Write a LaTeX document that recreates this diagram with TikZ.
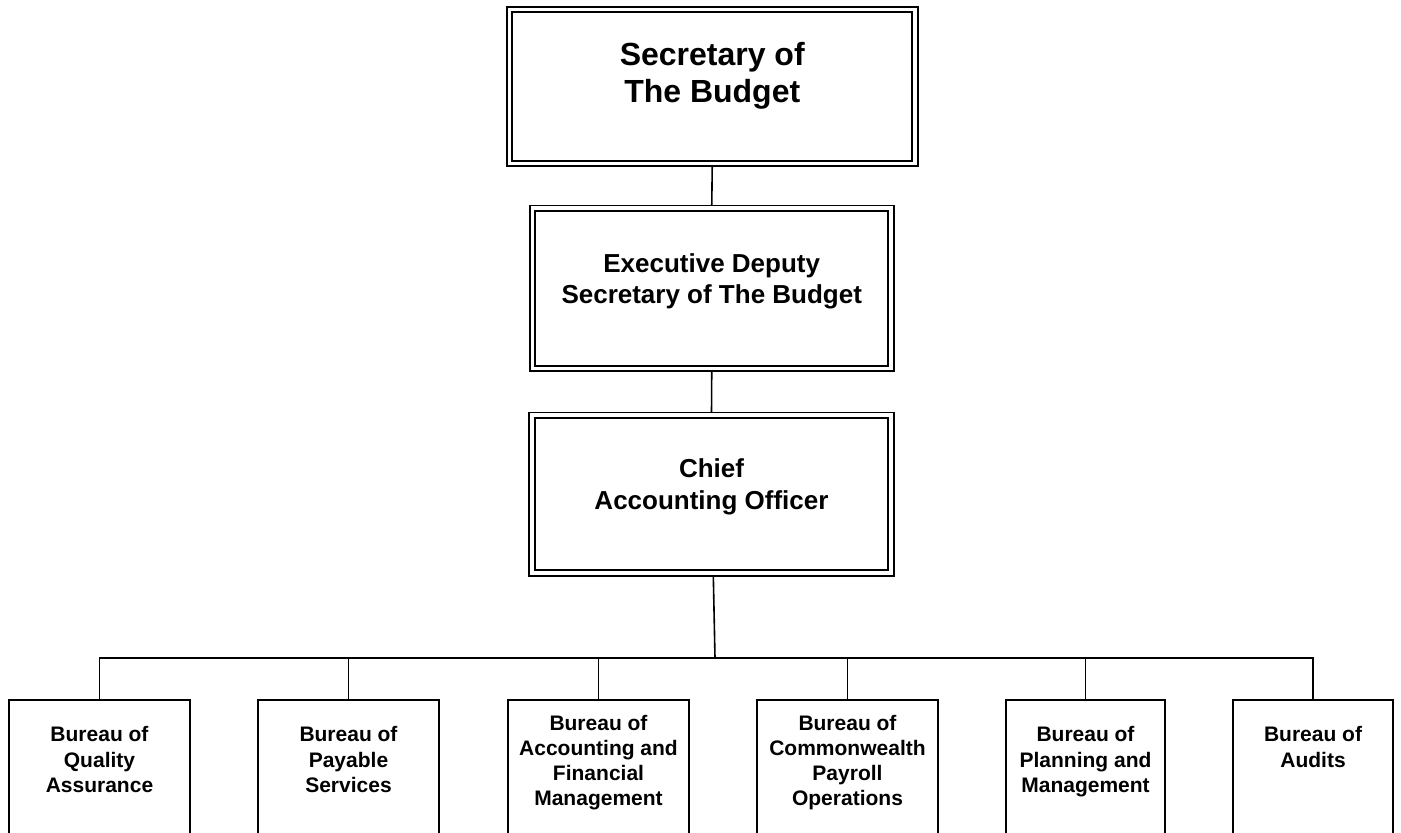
\documentclass[tikz,border=0pt]{standalone}
\usepackage{fontspec}
\setmainfont{Liberation Sans}
\usetikzlibrary{calc}
\pgfdeclarelayer{bg}
\pgfsetlayers{bg,main}
\begin{document}
\begin{tikzpicture}[x=1pt,y=-1pt,
  dbl/.style={draw=black, line width=1.8pt, double=white, double distance=3.8pt, inner sep=0pt},
  bbox/.style={draw=black, line width=1.6pt, fill=white, inner sep=0pt, minimum width=181pt, minimum height=134pt},
  txt/.style={inner sep=0pt, align=center, anchor=north},
  bigtxt/.style={txt, font=\fontsize{32}{36.7}\selectfont\bfseries},
  midtxt/.style={txt, font=\fontsize{26}{31.8}\selectfont\bfseries},
  smalltxt/.style={txt, font=\fontsize{21}{25.2}\selectfont\bfseries},
  conn/.style={line width=1.6pt}]
\useasboundingbox (0,0) rectangle (1401,833);

% top boxes
\node[dbl, minimum width=405.5pt, minimum height=154pt] (sec) at (712.25,86.5) {};
\node[bigtxt] (sect) at (712.25,42.3) {Secretary of\\The Budget};

\node[dbl, minimum width=358.5pt, minimum height=160.2pt] (exe) at (711.75,288.4) {};
\node[midtxt] (exet) at (711.75,253) {Executive Deputy\\Secretary of The Budget};

\node[dbl, minimum width=359pt, minimum height=157.6pt] (cao) at (711.5,494) {};
\node[midtxt] (caot) at (711.5,458.7) {Chief\\Accounting Officer};

% bureaus
\node[bbox] (b1) at (99.5,767) {};
\node[bbox] (b2) at (348.5,767) {};
\node[bbox] (b3) at (598.5,767) {};
\node[bbox] (b4) at (847.5,767) {};
\node[bbox, minimum width=159pt] (b5) at (1085.5,767) {};
\node[bbox, minimum width=160pt] (b6) at (1313,767) {};

\node[smalltxt] (t1) at (99.5,726.4) {Bureau of\\Quality\\Assurance};
\node[smalltxt] (t2) at (348.5,726.4) {Bureau of\\Payable\\Services};
\node[smalltxt] (t3) at (598.5,714.7) {Bureau of\\Accounting and\\Financial\\Management};
\node[smalltxt] (t4) at (847.5,714.7) {Bureau of\\Commonwealth\\Payroll\\Operations};
\node[smalltxt] (t5) at (1085.5,726.4) {Bureau of\\Planning and\\Management};
\node[smalltxt] (t6) at (1313,726.4) {Bureau of\\Audits};

\coordinate (bus) at (715,658);
\coordinate (caoout) at (713.3,575);

\begin{pgfonlayer}{bg}
\draw[conn] (sec.south) -- (exe.north);
\draw[conn] (exe.south) -- (cao.north);
\draw[conn] (caoout) -- (bus);
\draw[conn] (b1.north) -- (b1.north |- bus) -- (b6.north |- bus) -- (b6.north);
\draw[conn] (b2.north) -- (b2.north |- bus);
\draw[conn] (b3.north) -- (b3.north |- bus);
\draw[conn] (b4.north) -- (b4.north |- bus);
\draw[conn] (b5.north) -- (b5.north |- bus);
\end{pgfonlayer}
\end{tikzpicture}
\end{document}
